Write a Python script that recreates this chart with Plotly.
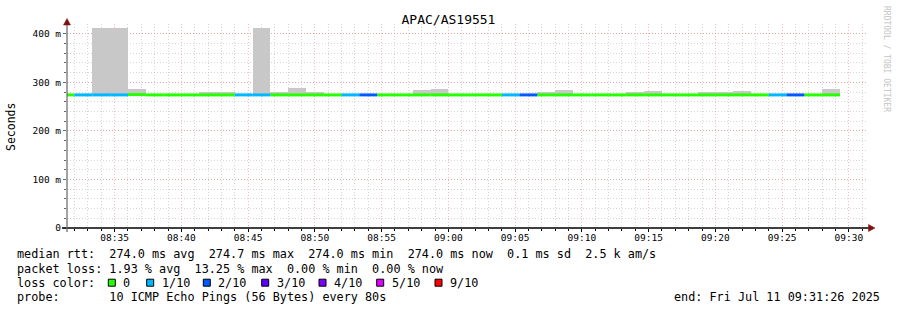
import pandas as pd
import plotly.graph_objects as go

# ---------------- data ----------------
chart_title = "APAC/AS19551"
range_start = "2025-07-11 08:31:26"
range_end = "2025-07-11 09:31:26"
first_bin_end = "2025-07-11 08:32:00"
step_seconds = 80

median_ms = [274.0, 274.0, 274.0, 274.0, 274.7, 274.0, 274.0, 274.0, 274.0, 274.0,
             274.0, 274.0, 274.0, 274.0, 274.0, 274.0, 274.0, 274.0, 274.0, 274.0,
             274.0, 274.0, 274.0, 274.0, 274.0, 274.0, 274.0, 274.0, 274.0, 274.0,
             274.0, 274.0, 274.0, 274.0, 274.0, 274.0, 274.0, 274.0, 274.0, 274.0,
             274.0, 274.0, 274.0, 274.0]

smoke_max_ms = [274.6, 274.6, 412.0, 412.0, 287.0, 274.6, 274.6, 274.6, 279.0, 279.0,
                274.6, 412.0, 280.0, 288.5, 279.0, 274.6, 274.6, 274.6, 274.6, 274.6,
                284.5, 286.5, 274.6, 274.6, 274.6, 274.6, 274.6, 280.0, 284.5, 274.6,
                274.6, 274.6, 279.0, 283.0, 274.6, 274.6, 279.0, 279.0, 283.0, 274.6,
                274.6, 274.6, 274.6, 286.5]

smoke_min_ms = [273.6, 273.6, 273.6, 273.6, 273.6, 273.6, 273.6, 273.6, 273.6, 273.6,
                273.6, 273.6, 273.6, 273.6, 273.6, 273.6, 273.6, 273.6, 273.6, 273.6,
                273.6, 273.6, 273.6, 273.6, 273.6, 273.6, 273.6, 273.6, 273.6, 273.6,
                273.6, 273.6, 273.6, 273.6, 273.6, 273.6, 273.6, 273.6, 273.6, 273.6,
                273.6, 273.6, 273.6, 273.6]

loss_pings = [0, 1, 1, 1, 0, 0, 0, 0, 0, 0,
              1, 1, 0, 0, 0, 0, 1, 2, 0, 0,
              0, 0, 0, 0, 0, 1, 2, 0, 0, 0,
              0, 0, 0, 0, 0, 0, 0, 0, 0, 0,
              1, 2, 0, 0]

loss_levels = [0, 1, 2, 3, 4, 5, 9]
loss_labels = ["0", "1/10", "2/10", "3/10", "4/10", "5/10", "9/10"]
loss_colors = ["#26ff00", "#00b8ff", "#0059ff", "#5e00ff", "#7e00ff", "#dd00ff", "#ff0000"]

y_tickvals = [0, 100, 200, 300, 400]
y_ticktext = ["0", "100 m", "200 m", "300 m", "400 m"]

legend_line1 = "median rtt:  274.0 ms avg  274.7 ms max  274.0 ms min  274.0 ms now  0.1 ms sd  2.5 k am/s"
legend_line2 = "packet loss: 1.93 % avg  13.25 % max  0.00 % min  0.00 % now"
legend_line3 = "loss color:"
legend_line4 = "probe:       10 ICMP Echo Pings (56 Bytes) every 80s"
end_text = "end: Fri Jul 11 09:31:26 2025"
watermark = "RRDTOOL / TOBI OETIKER"

# ---------------- layout geometry ----------------
W, H = 897, 310
PL, PR, PT, PB = 67, 868, 24, 228
MONO = "DejaVu Sans Mono"


def px2x(px):
    return (px - PL) / (PR - PL)


def px2y(py):
    return (PB - py) / (PB - PT)


bin_end = pd.date_range(first_bin_end, periods=len(median_ms), freq=f"{step_seconds}s")
bin_start = bin_end - pd.Timedelta(seconds=step_seconds)
bin_mid = bin_end - pd.Timedelta(seconds=step_seconds / 2)

fig = go.Figure()

# smoke
fig.add_trace(go.Bar(
    x=[t.strftime("%Y-%m-%d %H:%M:%S") for t in bin_mid],
    y=[mx - mn for mx, mn in zip(smoke_max_ms, smoke_min_ms)],
    base=smoke_min_ms,
    width=step_seconds * 1000,
    marker=dict(color="#c8c8c8", line=dict(width=0)),
    hoverinfo="skip",
    showlegend=False,
))

# median segments coloured by loss
for lvl, col in zip(loss_levels, loss_colors):
    xs, ys = [], []
    for s, e, m, l in zip(bin_start, bin_end, median_ms, loss_pings):
        if l == lvl:
            xs += [s.strftime("%Y-%m-%d %H:%M:%S"), e.strftime("%Y-%m-%d %H:%M:%S"), None]
            ys += [m, m, None]
    if xs:
        fig.add_trace(go.Scatter(x=xs, y=ys, mode="lines",
                                 line=dict(color=col, width=3),
                                 hoverinfo="skip", showlegend=False))

annotations = []
shapes = []

# legend text lines
for txt, py in [(legend_line1, 254.3), (legend_line2, 268.5), (legend_line3, 282.7), (legend_line4, 296.7)]:
    annotations.append(dict(text=txt.replace(" ", "\u00a0"), xref="paper", yref="paper",
                            x=px2x(15), y=px2y(py), xanchor="left", yanchor="middle",
                            showarrow=False, font=dict(family=MONO, size=11.8, color="#000000")))

annotations.append(dict(text=end_text.replace(" ", "\u00a0"), xref="paper", yref="paper",
                        x=px2x(882), y=px2y(296.7), xanchor="right", yanchor="middle",
                        showarrow=False, font=dict(family=MONO, size=11.8, color="#000000")))

# loss colour boxes
box_lefts = [108.3, 146.7, 203.3, 261.7, 319.0, 376.7, 435.0]
for bl, lab, col in zip(box_lefts, loss_labels, loss_colors):
    shapes.append(dict(type="rect", xref="paper", yref="paper",
                       x0=px2x(bl), x1=px2x(bl + 7), y0=px2y(286.2), y1=px2y(279.2),
                       fillcolor=col, line=dict(color="#000000", width=1)))
    annotations.append(dict(text=lab, xref="paper", yref="paper",
                            x=px2x(bl + 13), y=px2y(282.7), xanchor="left", yanchor="middle",
                            showarrow=False, font=dict(family=MONO, size=11.8, color="#000000")))

# y axis title
annotations.append(dict(text="Seconds", xref="paper", yref="paper",
                        x=px2x(11), y=px2y(127), xanchor="center", yanchor="middle",
                        textangle=-90, showarrow=False,
                        font=dict(family=MONO, size=11.5, color="#000000")))

# watermark
annotations.append(dict(text=watermark.replace(" ", "\u00a0"), xref="paper", yref="paper",
                        x=px2x(886), y=px2y(59), xanchor="center", yanchor="middle",
                        textangle=90, showarrow=False,
                        font=dict(family=MONO, size=8, color="#c4c4c4")))

# axis lines
shapes.append(dict(type="line", xref="paper", yref="paper",
                   x0=px2x(62), x1=px2x(870), y0=0, y1=0,
                   line=dict(color="#000000", width=1.3)))
shapes.append(dict(type="line", xref="paper", yref="paper",
                   x0=0, x1=0, y0=px2y(232), y1=px2y(22),
                   line=dict(color="#666666", width=1.2)))
# arrows
shapes.append(dict(type="path", xref="paper", yref="paper",
                   path=f"M {px2x(63.5)} {px2y(25)} L {px2x(67)} {px2y(18.5)} L {px2x(70.5)} {px2y(25)} Z",
                   fillcolor="#7f1010", line=dict(color="#7f1010", width=0.5)))
shapes.append(dict(type="path", xref="paper", yref="paper",
                   path=f"M {px2x(868.5)} {px2y(224.5)} L {px2x(875)} {px2y(228)} L {px2x(868.5)} {px2y(231.5)} Z",
                   fillcolor="#7f1010", line=dict(color="#7f1010", width=0.5)))

fig.update_layout(
    width=W, height=H,
    margin=dict(l=PL, r=W - PR, t=PT, b=H - PB, pad=0),
    paper_bgcolor="#ffffff", plot_bgcolor="#ffffff",
    title=dict(text=chart_title, x=0.5, xref="container", y=1 - 19 / H, yref="container",
               xanchor="center", yanchor="middle",
               font=dict(family=MONO, size=13, color="#000000")),
    showlegend=False,
    bargap=0,
    annotations=annotations,
    shapes=shapes,
    xaxis=dict(
        type="date", range=[range_start, range_end],
        dtick=300000, tick0="2025-07-11 08:35:00", tickformat="%H:%M",
        showgrid=True, gridcolor="rgba(240,120,120,0.5)", griddash="1px,2px", gridwidth=1,
        ticks="outside", ticklen=3, tickcolor="#000000",
        minor=dict(dtick=60000, showgrid=True, gridcolor="rgba(180,180,180,0.55)",
                   griddash="1px,2px", gridwidth=1, ticks="outside", ticklen=2, tickcolor="#000000"),
        showline=False, zeroline=False,
        tickfont=dict(family=MONO, size=9.5, color="#000000"),
        ticklabelstandoff=-2,
        fixedrange=True,
    ),
    yaxis=dict(
        range=[0, 420], tickvals=y_tickvals, ticktext=y_ticktext,
        showgrid=True, gridcolor="rgba(240,120,120,0.5)", griddash="1px,2px", gridwidth=1,
        ticks="outside", ticklen=3, tickcolor="#666666",
        minor=dict(dtick=20, showgrid=True, gridcolor="rgba(180,180,180,0.55)",
                   griddash="1px,2px", gridwidth=1, ticks="outside", ticklen=2, tickcolor="#666666"),
        showline=False, zeroline=False,
        tickfont=dict(family=MONO, size=9.5, color="#000000"),
        ticklabelstandoff=0,
        fixedrange=True,
    ),
)

fig.write_html("out.html")
